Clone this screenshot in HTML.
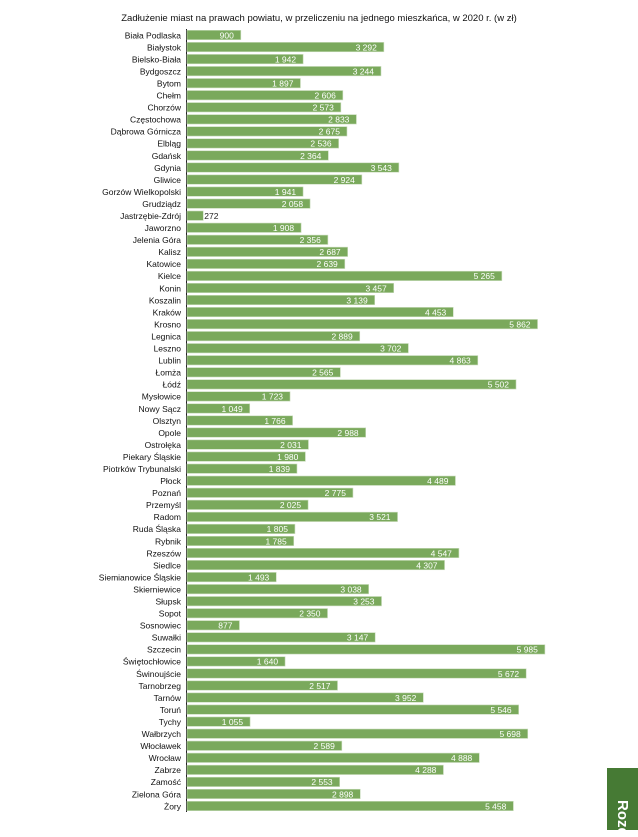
<!DOCTYPE html>
<html><head><meta charset="utf-8"><style>
body{margin:0;background:#fff;width:638px;height:830px;overflow:hidden;position:relative;font-family:"Liberation Sans",sans-serif}
#side{position:absolute;left:607px;top:768px;width:31px;height:62px;background:#467a34}
#side span{position:absolute;left:6px;top:32px;color:#fff;font-weight:bold;font-size:15px;transform:rotate(90deg);transform-origin:0 0;left:24px}
</style></head><body>
<svg id="chart" width="638" height="830" style="position:absolute;left:0;top:0"></svg>
<div id="side"><span>Rozd</span></div>
<script>
const cities=["Biała Podlaska","Białystok","Bielsko-Biała","Bydgoszcz","Bytom","Chełm","Chorzów","Częstochowa","Dąbrowa Górnicza","Elbląg","Gdańsk","Gdynia","Gliwice","Gorzów Wielkopolski","Grudziądz","Jastrzębie-Zdrój","Jaworzno","Jelenia Góra","Kalisz","Katowice","Kielce","Konin","Koszalin","Kraków","Krosno","Legnica","Leszno","Lublin","Łomża","Łódź","Mysłowice","Nowy Sącz","Olsztyn","Opole","Ostrołęka","Piekary Śląskie","Piotrków Trybunalski","Płock","Poznań","Przemyśl","Radom","Ruda Śląska","Rybnik","Rzeszów","Siedlce","Siemianowice Śląskie","Skierniewice","Słupsk","Sopot","Sosnowiec","Suwałki","Szczecin","Świętochłowice","Świnoujście","Tarnobrzeg","Tarnów","Toruń","Tychy","Wałbrzych","Włocławek","Wrocław","Zabrze","Zamość","Zielona Góra","Żory"];
const values=[900,3292,1942,3244,1897,2606,2573,2833,2675,2536,2364,3543,2924,1941,2058,272,1908,2356,2687,2639,5265,3457,3139,4453,5862,2889,3702,4863,2565,5502,1723,1049,1766,2988,2031,1980,1839,4489,2775,2025,3521,1805,1785,4547,4307,1493,3038,3253,2350,877,3147,5985,1640,5672,2517,3952,5546,1055,5698,2589,4888,4288,2553,2898,5458];
const title="Zadłużenie miast na prawach powiatu, w przeliczeniu na jednego mieszkańca, w 2020 r. (w zł)";
const NS="http://www.w3.org/2000/svg",svg=document.getElementById('chart');
const x0=187,k=0.0598,yTop=35,step=(806-35)/64;
const xS=v=>x0+v*k, yS=i=>yTop+i*step;
function mk(t,a,p){const e=document.createElementNS(NS,t);for(const n in a)e.setAttribute(n,a[n]);(p||svg).appendChild(e);return e;}
const tt=mk('text',{x:319,y:21,'text-anchor':'middle','font-size':'9.5',fill:'#111'});tt.textContent=title;


const ax=mk('line',{x1:186.5,x2:186.5,y1:yS(0)-6,y2:yS(64)+6,stroke:'#222','stroke-width':1});


cities.forEach((c,i)=>{
 const y=yS(i),v=values[i];
 const lb=mk('text',{x:181,y:y+3.3,'text-anchor':'end','font-size':'8.5',fill:'#111'});lb.textContent=c;
 
 
 const r=mk('rect',{x:x0,y:y-4.7,width:xS(v)-x0,height:9.4,fill:'#7aa95c',stroke:'#c9dcbc','stroke-width':0.6});
 
 
 const s=String(v).replace(/\B(?=(\d{3})+(?!\d))/g,' ');
 const vl=mk('text',{x:v<500?xS(v)+1:xS(v)-7,y:y+3.3,'text-anchor':v<500?'start':'end','font-size':'8.5',fill:v<500?'#222':'#fff'});vl.textContent=s;
 
 
});
</script>
</body></html>
